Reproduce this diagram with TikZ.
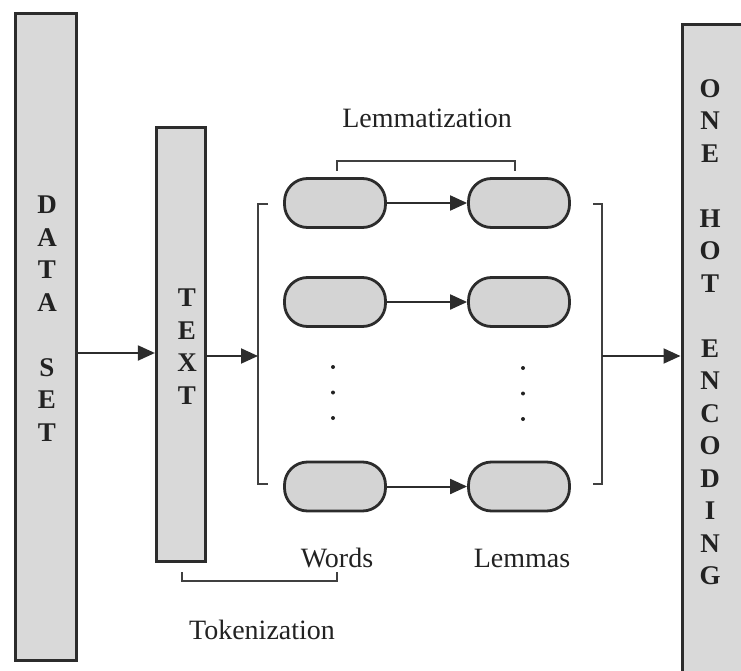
\documentclass[tikz,border=0pt]{standalone}
\usepackage{fontspec}
\setmainfont{Liberation Serif}
\usetikzlibrary{arrows.meta}
\definecolor{boxfill}{HTML}{D9D9D9}
\definecolor{pillfill}{HTML}{D4D4D4}
\definecolor{edge}{HTML}{2C2C2C}
\definecolor{ink}{HTML}{222222}
\definecolor{brace}{HTML}{404040}

\tikzset{
  column/.style={draw=edge, fill=boxfill, line width=3.2pt, inner sep=0pt},
  pill/.style={draw=edge, fill=pillfill, line width=2.8pt, rounded corners=23pt,
    minimum width=101pt, minimum height=49pt, inner sep=0pt},
  arr/.style={draw=edge, line width=2pt, -{Triangle[length=17pt,width=15pt]}},
  bracketline/.style={draw=brace, line width=2.2pt},
  caption/.style={font=\fontsize{28}{34}\selectfont, text=ink, inner sep=0pt},
  letters/.style={font=\bfseries\fontsize{27}{32.5}\selectfont, text=ink,
    align=center, inner sep=0pt, anchor=north},
  dot/.style={fill=ink}
}

\begin{document}
\begin{tikzpicture}[x=1pt,y=-1pt]
\useasboundingbox (0,0) rectangle (741,671);

% stage columns
\node[column, minimum width=61pt, minimum height=647pt] (dataset) at (46,337) {};
\node[column, minimum width=49pt, minimum height=434pt] (textbox) at (181,344.5) {};
\begin{scope}
  \clip (0,0) rectangle (741,671);
  \node[column, minimum width=62pt, minimum height=700pt, anchor=north west] (onehot) at (680.5,23) {};
\end{scope}

% vertical letters
\node[letters] (dstext) at (47,196) {D\\A\\T\\A\\[32.5pt]S\\E\\T};
\node[letters] (txtext) at (187,289) {T\\E\\X\\T};
\node[letters] (ohtext) at (710,79) {O\\N\\E\\[32.5pt]H\\O\\T\\[32.5pt]E\\N\\C\\O\\D\\I\\N\\G};

% words and lemmas
\node[pill] (w1) at (335,203) {};
\node[pill] (l1) at (519,203) {};
\node[pill] (w2) at (335,302) {};
\node[pill] (l2) at (519,302) {};
\node[pill] (w3) at (335,486.5) {};
\node[pill] (l3) at (519,486.5) {};

\draw[arr] (w1) -- (l1);
\draw[arr] (w2) -- (l2);
\draw[arr] (w3) -- (l3);

% elision dots
\foreach \y in {367,392.5,418} {
  \fill[dot] (333,\y) circle (2pt);
  \fill[dot] (523,\y+1) circle (2pt);
}

% grouping brackets
\draw[bracketline] (268,204) -- (258,204) -- (258,484) -- (268,484);
\draw[bracketline] (593,204) -- (602,204) -- (602,484) -- (593,484);
\coordinate (lgroup) at (258,356);
\coordinate (rgroup) at (602,356);
\coordinate (flow) at (0,353);
\coordinate (flow2) at (0,356);

% flow between stages
\draw[arr] (dataset.east |- flow) -- (textbox.west |- flow);
\draw[arr] (textbox.east |- flow2) -- (lgroup);
\draw[arr] (rgroup) -- (onehot.west |- flow2);

% lemmatization bracket
\draw[bracketline] (337,171) -- (337,161) -- (515,161) -- (515,171);
\node[caption] (lemmatization) at (427,118) {Lemmatization};

% tokenization bracket
\draw[bracketline] (182,572) -- (182,581) -- (337,581) -- (337,572);
\node[caption] (tokenization) at (262,630) {Tokenization};

\node[caption] (words) at (337,558) {Words};
\node[caption] (lemmas) at (522,558) {Lemmas};
\end{tikzpicture}
\end{document}
